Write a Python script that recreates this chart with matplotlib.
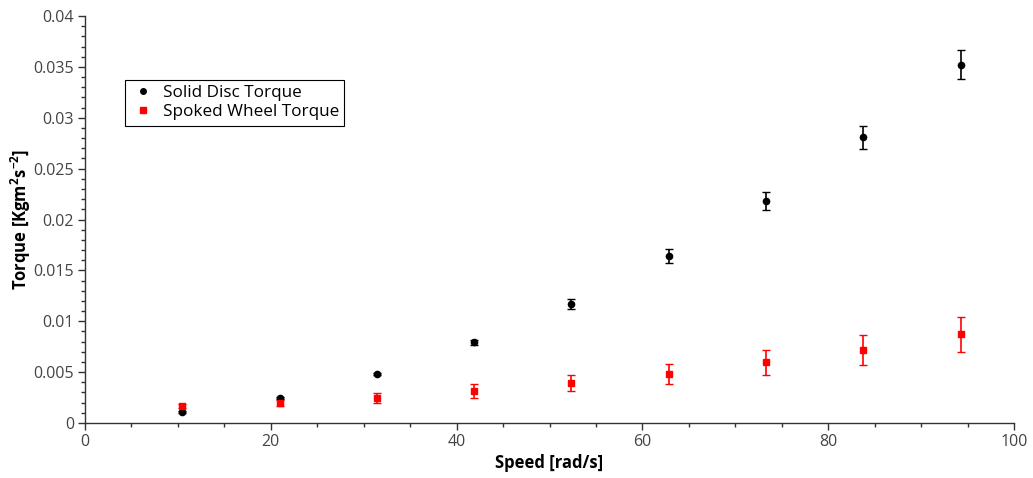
import numpy as np
import matplotlib
matplotlib.use("Agg")
import matplotlib.pyplot as plt
from matplotlib.ticker import MultipleLocator
from matplotlib.lines import Line2D

plt.rcParams['font.family'] = ['Open Sans', 'DejaVu Sans']
plt.rcParams['mathtext.fontset'] = 'custom'
plt.rcParams['mathtext.rm'] = 'Open Sans'
plt.rcParams['mathtext.bf'] = 'Open Sans:bold'

# velocidades (rad/s)
speed = [10.47, 20.94, 31.42, 41.89, 52.36, 62.83, 73.30, 83.78, 94.25]

# disco solido
solid_torque = [0.00108, 0.00246, 0.00482, 0.00792, 0.0117, 0.0164, 0.0218, 0.0281, 0.0352]
solid_err = [0.00008, 0.0001, 0.00012, 0.00026, 0.0005, 0.00067, 0.0009, 0.00113, 0.00143]

# roda raiada
spoked_torque = [0.00167, 0.00197, 0.00244, 0.00311, 0.00396, 0.00485, 0.00596, 0.0072, 0.0087]
spoked_err = [0.0002, 0.0003, 0.00052, 0.0007, 0.0008, 0.00098, 0.00121, 0.00147, 0.00172]

fig = plt.figure(figsize=(10.33, 4.78), dpi=100)
ax = fig.add_axes([85/1033, 1 - 423/478, 929/1033, 407/478])

ax.errorbar(speed, solid_torque, yerr=solid_err, fmt='o', color='black',
            ms=4.5, elinewidth=1.2, capsize=3, capthick=1.0)
ax.errorbar(speed, spoked_torque, yerr=spoked_err, fmt='s', color='red',
            ms=4.5, elinewidth=1.2, capsize=3, capthick=1.0)

ax.set_xlim(0, 100)
ax.set_ylim(0, 0.04)
ax.xaxis.set_major_locator(MultipleLocator(20))
ax.xaxis.set_minor_locator(MultipleLocator(5))
ax.yaxis.set_minor_locator(MultipleLocator(0.001))
ax.set_yticks(np.arange(0, 0.0401, 0.005))
ax.set_yticklabels(['0', '0.005', '0.01', '0.015', '0.02', '0.025', '0.03', '0.035', '0.04'])

ax.spines['top'].set_visible(False)
ax.spines['right'].set_visible(False)
for s in ['left', 'bottom']:
    ax.spines[s].set_color('#333333')
    ax.spines[s].set_linewidth(1.0)

ax.tick_params(which='major', direction='out', length=5, width=1, color='#333333',
               labelsize=11.5, labelcolor='#444444', pad=3)
ax.tick_params(which='minor', direction='out', length=3, width=1, color='#333333')

ax.set_xlabel('Speed [rad/s]', fontsize=12, fontweight='bold', labelpad=3)
ax.set_ylabel(r'Torque [Kgm$^\mathbf{2}$s$^\mathbf{-2}$]', fontsize=12,
              fontweight='bold', labelpad=0)

handles = [Line2D([], [], ls='none', marker='o', color='black', ms=4),
           Line2D([], [], ls='none', marker='s', color='red', ms=4)]
leg = ax.legend(handles, ['Solid Disc Torque', 'Spoked Wheel Torque'],
                loc='upper left', bbox_to_anchor=(0.043, 0.843), borderaxespad=0,
                fancybox=False, edgecolor='black', framealpha=1, fontsize=12.3,
                handletextpad=0.4, handlelength=1.5, borderpad=0.3, labelspacing=0.2)
leg.get_frame().set_linewidth(0.8)

fig.savefig('out.png', dpi=100)
